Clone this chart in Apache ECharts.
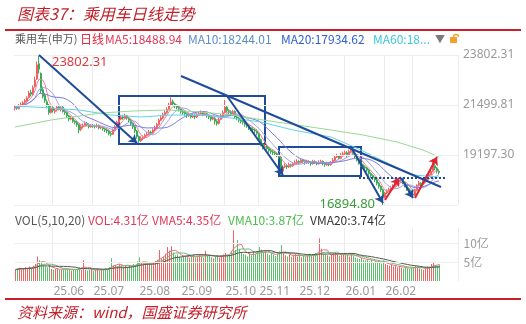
<!DOCTYPE html>
<html lang="zh-CN">
<head>
<meta charset="UTF-8">
<title>乘用车日线走势</title>
<script src="https://cdn.jsdelivr.net/npm/echarts@6/dist/echarts.min.js"></script>
<style>
html, body { margin: 0; padding: 0; background: #fff; }
#main { width: 526px; height: 324px; }
</style>
</head>
<body>
<div id="main"></div>
<script>
// 日K: [开, 收, 低, 高]，2025-05-06 起的交易日
var candles = [
  [21350,21400,21250,21500],[21420,21350,21280,21480],[21330,21480,21300,21550],[21500,21520,21420,21620],[21480,21600,21450,21680],
  [21620,21700,21550,21780],[21680,21820,21650,21900],[21850,22050,21800,22150],[22080,22000,21900,22200],[21980,22300,21950,22400],
  [22350,22650,22300,22800],[22700,23350,22650,23500],[23400,23150,22950,23802.31],[22950,22150,22050,23000],[22200,21900,21800,22350],
  [21950,21700,21600,22050],[21650,21450,21350,21750],[21500,21150,21050,21550],[21150,21350,21100,21450],[21380,21250,21150,21450],
  [21200,21250,21100,21350],[21280,21400,21200,21500],[21420,21300,21250,21500],[21300,21380,21200,21450],[21400,21200,21150,21450],
  [21200,21150,21050,21300],[21150,21000,20900,21200],[21000,20850,20750,21050],[20850,20900,20800,21000],[20900,20750,20680,20950],
  [20750,20700,20600,20800],[20700,20600,20500,20780],[20600,20350,20200,20650],[20380,20500,20300,20580],[20500,20550,20420,20650],
  [20560,20650,20500,20750],[20650,20600,20520,20720],[20600,20500,20420,20650],[20500,20550,20450,20620],[20560,20520,20450,20620],
  [20520,20500,20420,20600],[20500,20560,20450,20650],[20560,20450,20380,20600],[20450,20480,20380,20550],[20480,20400,20320,20520],
  [20400,20350,20250,20450],[20350,20300,20200,20420],[20300,20180,20100,20350],[20180,20150,20050,20250],[20150,20350,20120,20420],
  [20350,20500,20300,20580],[20500,20700,20450,20780],[20700,20850,20650,20950],[20850,20950,20800,21050],[20950,20900,20820,21050],
  [20900,21000,20850,21100],[21000,20900,20820,21050],[20900,20800,20700,20950],[20800,20650,20550,20850],[20650,20500,20400,20700],
  [20500,20300,20200,20550],[20300,20050,19950,20350],[20050,19850,19750,20100],[19850,19950,19800,20050],[19950,20000,19880,20100],
  [20000,20100,19950,20180],[20100,20150,20050,20250],[20150,20250,20100,20350],[20250,20200,20120,20320],[20200,20350,20150,20420],
  [20350,20450,20300,20550],[20450,20600,20400,20680],[20600,20800,20550,20880],[20800,20900,20750,21000],[20900,21050,20850,21150],
  [21050,21150,21000,21250],[21150,21300,21100,21400],[21300,21500,21250,21600],[21500,21650,21450,21850],[21650,21550,21450,21750],
  [21550,21450,21350,21600],[21450,21380,21300,21520],[21380,21300,21200,21450],[21300,21200,21100,21350],[21200,21150,21050,21280],
  [21150,21100,21000,21250],[21100,21000,20900,21150],[21000,21050,20950,21150],[21050,20950,20880,21100],[20950,21000,20900,21080],
  [21000,20950,20850,21080],[20950,21050,20900,21150],[21050,21100,21000,21200],[21100,21150,21050,21250],[21150,21050,20980,21200],
  [21050,21100,21000,21180],[21100,21000,20920,21150],[21000,20950,20850,21050],[20950,20850,20750,21000],[20850,20900,20800,20980],
  [20900,20750,20600,20950],[20750,20650,20550,20800],[20650,20850,20600,20900],[20850,21000,20800,21080],[21000,21150,20950,21250],
  [21150,21400,21100,21730],[21400,21250,21150,21500],[21250,21150,21050,21300],[21150,21100,21000,21250],[21100,21200,21050,21280],
  [21200,20950,20900,21250],[20950,20900,20800,21050],[20900,20800,20700,20950],[20800,20750,20650,20880],[20750,20700,20600,20800],
  [20700,20600,20500,20750],[20600,20550,20450,20680],[20550,20450,20350,20600],[20450,20400,20300,20500],[20400,20350,20250,20480],
  [20350,20300,20200,20420],[20300,20200,20100,20380],[20200,19900,19800,20250],[19900,19700,19600,19950],[19700,19550,19450,19750],
  [19550,19600,19450,19700],[19600,19500,19400,19680],[19500,19400,19300,19580],[19400,19350,19250,19480],[19350,19300,19200,19420],
  [19300,19250,19150,19380],[19250,19200,19100,19320],[19200,19100,19000,19280],[19100,18450,18276,19150],[18450,18650,18400,18720],
  [18650,18700,18600,18800],[18700,18650,18550,18780],[18650,18750,18600,18850],[18750,18700,18620,18800],[18700,18800,18650,18880],
  [18800,18850,18750,18950],[18850,18900,18780,19000],[18900,18850,18750,18950],[18850,18950,18800,19050],[18950,18900,18820,19000],
  [18900,18850,18750,18950],[18850,18900,18780,18980],[18900,18850,18780,18950],[18850,18800,18700,18900],[18800,18900,18750,18980],
  [18900,18850,18780,18950],[18850,18800,18720,18900],[18800,18850,18750,18950],[18850,18900,18800,18980],[18900,18800,18720,18950],
  [18800,18750,18650,18850],[18750,18800,18700,18880],[18800,18750,18680,18850],[18750,18850,18700,18920],[18850,18950,18800,19050],
  [18950,19100,18900,19200],[19100,19150,19050,19250],[19150,19050,18980,19200],[19050,19200,19000,19300],[19200,19250,19150,19350],
  [19250,19300,19200,19400],[19300,19200,19100,19380],[19200,19350,19150,19450],[19350,19400,19300,19566],[19400,19250,19150,19450],
  [19250,19150,19050,19300],[19150,19000,18900,19200],[19000,18850,18750,19050],[18850,18750,18650,18900],[18750,18650,18550,18800],
  [18650,18600,18500,18720],[18600,18500,18400,18650],[18500,18350,18250,18550],[18350,18250,18150,18400],[18250,18150,18050,18300],
  [18150,18050,17950,18200],[18050,17900,17800,18100],[17900,17750,17650,17950],[17750,17600,17500,17800],[17600,17250,16894.80,17650],
  [17250,17450,17200,17500],[17450,17550,17400,17620],[17550,17600,17500,17700],[17600,17700,17550,17780],[17700,17750,17650,17850],
  [17750,17850,17700,17950],[17850,17950,17800,18050],[17950,18050,17900,18150],[18050,18100,17980,18200],[18100,17950,17850,18150],
  [17950,17800,17700,18000],[17800,17650,17550,17850],[17650,17550,17450,17700],[17550,17400,17300,17600],[17400,17350,17217,17450],
  [17350,17600,17300,17650],[17600,17800,17550,17850],[17800,17900,17750,18000],[17900,17850,17750,17950],[17850,17950,17800,18050],
  [17950,18050,17900,18150],[18050,18200,18000,18300],[18200,18300,18150,18400],[18300,18450,18250,18550],[18450,18700,18400,19000],
  [18700,18600,18500,18800],[18600,18450,18350,18650],[18450,18400,18300,18550]
];

// 成交量（亿）
var volumes = [
  3.0,3.2,3.5,3.1,3.4,3.6,3.3,3.8,3.5,4.0,
  4.5,6.5,5.5,5.0,4.2,
  3.8,3.6,4.0,3.2,3.0,3.1,3.4,2.9,3.0,3.2,
  3.0,3.3,3.1,2.8,3.0,2.9,3.2,3.6,3.0,5.5,
  3.0,2.8,2.9,3.1,2.7,2.9,3.0,2.8,3.2,3.0,
  3.3,3.1,3.6,6.0,4.0,4.2,3.9,4.4,4.1,3.8,
  4.0,3.7,4.2,3.9,4.5,4.3,5.2,6.3,4.8,4.6,
  4.4,4.7,4.9,4.5,5.0,5.3,5.6,8.2,6.0,6.5,
  7.2,9.0,8.0,9.2,7.5,6.8,7.0,6.5,6.2,6.6,
  6.4,6.8,6.1,6.5,6.9,6.3,6.7,7.0,6.4,6.2,
  8.0,6.6,6.9,6.3,6.0,6.5,6.8,6.2,6.6,7.0,
  7.4,6.8,6.9,8.0,13.4,8.2,10.8,8.5,7.6,7.2,
  7.0,6.5,7.3,6.8,7.9,7.1,7.5,9.0,8.3,7.6,
  7.8,7.2,6.9,7.4,7.0,6.6,7.2,7.8,9.5,7.3,
  6.8,6.5,7.0,6.4,6.7,7.1,6.5,6.9,6.3,6.6,
  6.4,6.8,7.2,6.6,7.0,7.4,6.8,11.3,8.5,7.2,
  7.0,6.8,6.5,6.9,7.3,7.6,7.0,6.7,6.9,7.2,
  6.8,7.0,6.5,7.4,6.6,6.2,6.0,5.8,6.1,5.6,
  5.5,5.8,5.2,5.6,5.0,5.3,4.8,5.1,4.6,5.4,
  4.5,4.2,4.0,4.3,3.8,4.1,3.6,3.9,3.5,3.3,
  3.6,3.4,3.2,3.5,3.7,4.0,3.8,3.4,3.2,3.0,
  3.4,3.8,3.6,4.5,4.8,4.2,4.0,4.31
];

// MA60 / MA120 读图取点 [序号, 值]
var ma60Pts = [[0,21454],[18,21361],[32,21269],[48,21039],[63,20947],[78,21039],[93,21039],
  [108,20901],[123,20717],[139,20348],[158,20025],[173,19427],[183,18967],[199,18276],[212,18184]];
var ma120Pts = [[0,20486],[18,20809],[43,21131],[59,21223],[76,21269],[93,21177],[109,21039],
  [124,20809],[141,20579],[158,20348],[174,20118],[191,19796],[204,19427],[212,19105]];

var slots = 222;               // 右侧留白
var monthStart = [19, 39, 62, 83, 105, 122, 142, 165, 185, 199];
var monthLabel = ['25.06','25.07','25.08','25.09','25.10','25.11','25.12','26.01','26.02',''];
var priceTicks = [19197.30, 21499.81, 23802.31];
var priceGrid = [16894.80, 19197.30, 21499.81, 23802.31];
var volTicks = [5, 10];

// 标注：[起点序号, 起点值, 终点序号, 终点值]
var blueArrows = [[12,23802.31,61,19750],[106,21914,134,18276],[168,19566,184,16987],[193,18138,199,17217]];
var redArrows = [[185,17125,192,18138],[200,17217,211,19105]];
var trendLine = [83,22835,213,17724];
var supportLine = [172,18138,215,18138];
var boxes = [[52,21914,125,19704],[132,19566,173,18230]];

var UP = '#f06060', DOWN = '#35ad52', NAVY = '#1f4b99', RED = '#dc2530';

function ma(arr, n) {
  return arr.map(function (v, i) {
    var s = arr.slice(Math.max(0, i - n + 1), i + 1);
    return +(s.reduce(function (a, b) { return a + b; }, 0) / s.length).toFixed(2);
  });
}
function sparse(pts) {
  var out = [];
  for (var i = 0; i < candles.length; i++) out.push(null);
  pts.forEach(function (p) { out[p[0]] = p[1]; });
  return out;
}

var closes = candles.map(function (c) { return c[1]; });
var cats = [];
for (var i = 0; i < slots; i++) cats.push('');
monthStart.forEach(function (m, k) { cats[m] = monthLabel[k]; });
var monthSet = {};
monthStart.forEach(function (m) { monthSet[m] = true; });

var volData = volumes.map(function (v, i) {
  var c = candles[i];
  return { value: v, itemStyle: { color: c[1] >= c[0] ? '#f06464' : '#5cbf6e' } };
});

function seg(a, color, arrow, dotted) {
  return [
    { coord: [a[0], a[1]], symbol: 'none', lineStyle: { color: color, width: 2, type: dotted ? 'dotted' : 'solid' } },
    { coord: [a[2], a[3]], symbol: arrow ? 'arrow' : 'none', symbolSize: 8 }
  ];
}
var notes = [];
blueArrows.forEach(function (a) { notes.push(seg(a, NAVY, true)); });
redArrows.forEach(function (a) { notes.push(seg(a, RED, true)); });
notes.push(seg(trendLine, NAVY, false));
notes.push(seg(supportLine, NAVY, false, true));

function lineSeries(name, data, color, xi) {
  return {
    name: name, type: 'line', data: data, xAxisIndex: xi, yAxisIndex: xi,
    showSymbol: false, connectNulls: true, silent: true,
    lineStyle: { width: 1, color: color }, itemStyle: { color: color }
  };
}

function txt(x, y, s, color, size, extra) {
  var st = { text: s, fill: color, font: (size || 12) + 'px "Noto Sans CJK SC", "Noto Sans", sans-serif', textVerticalAlign: 'middle' };
  if (extra) for (var k in extra) st[k] = extra[k];
  return { type: 'text', x: x, y: y, style: st, z: 10 };
}

var chart = echarts.init(document.getElementById('main'), null, { renderer: 'canvas' });

var option = {
  animation: false,
  backgroundColor: '#fff',
  grid: [
    { left: 14, width: 444, top: 55, height: 150 },
    { left: 14.5, width: 444, top: 228, height: 53 }
  ],
  xAxis: [
    {
      type: 'category', gridIndex: 0, data: cats, boundaryGap: true,
      axisLine: { show: false }, axisTick: { show: false }, axisLabel: { show: false },
      splitLine: { show: true, interval: function (i) { return !!monthSet[i]; }, lineStyle: { color: '#ececec' } }
    },
    {
      type: 'category', gridIndex: 1, data: cats, boundaryGap: true,
      axisLine: { show: false }, axisTick: { show: false },
      axisLabel: { interval: 0, align: 'left', color: '#9a9a9a', fontSize: 12, margin: 5,
        fontFamily: '"Noto Sans", sans-serif' },
      splitLine: { show: true, interval: function (i) { return !!monthSet[i]; }, lineStyle: { color: '#ececec' } }
    }
  ],
  yAxis: [
    {
      type: 'value', gridIndex: 0, position: 'right', min: 16894.80, max: 23802.31,
      axisLine: { show: false }, axisTick: { show: false }, splitLine: { show: false },
      axisLabel: { customValues: priceTicks, formatter: function (v) { return v.toFixed(2); },
        color: '#9a9a9a', fontSize: 12, margin: 5, fontFamily: '"Noto Sans", sans-serif' }
    },
    {
      type: 'value', gridIndex: 1, position: 'right', min: 0, max: 14,
      axisLine: { show: false }, axisTick: { show: false }, splitLine: { show: false },
      axisLabel: { customValues: volTicks, formatter: function (v) { return v + '亿'; },
        color: '#9a9a9a', fontSize: 12, margin: 5, fontFamily: '"Noto Sans CJK SC", sans-serif' }
    }
  ],
  series: [
    {
      type: 'line', data: sparse([]), xAxisIndex: 0, yAxisIndex: 0, silent: true, z: 0,
      markLine: { silent: true, symbol: 'none', label: { show: false },
        lineStyle: { color: '#efefef', type: 'solid', width: 1 },
        data: priceGrid.map(function (v) { return { yAxis: v }; }) }
    },
    {
      type: 'line', data: [], xAxisIndex: 1, yAxisIndex: 1, silent: true, z: 0,
      markLine: { silent: true, symbol: 'none', label: { show: false },
        lineStyle: { color: '#efefef', type: 'solid', width: 1 },
        data: volTicks.map(function (v) { return { yAxis: v }; }) }
    },
    {
      name: 'K', type: 'candlestick', data: candles, xAxisIndex: 0, yAxisIndex: 0,
      barWidth: '70%', silent: true,
      itemStyle: { color: UP, color0: DOWN, borderColor: UP, borderColor0: DOWN, borderWidth: 1 },
      markLine: { silent: true, animation: false, label: { show: false }, data: notes },
      markArea: {
        silent: true,
        itemStyle: { color: 'rgba(0,0,0,0)', borderColor: NAVY, borderWidth: 2 },
        data: boxes.map(function (b) { return [{ coord: [b[0], b[1]] }, { coord: [b[2], b[3]] }]; })
      },
      markPoint: {
        silent: true, symbol: 'circle', symbolSize: 0,
        data: [
          { coord: [12, 23802.31], label: { show: true, position: 'right', distance: 5, offset: [8, 7],
              formatter: '23802.31', color: '#e03a3e', fontSize: 13, fontFamily: '"Noto Sans", sans-serif' } },
          { coord: [184, 16894.80], label: { show: true, position: 'left', distance: 5, offset: [-3, -1],
              formatter: '16894.80', color: '#3a9d3a', fontSize: 13, fontFamily: '"Noto Sans", sans-serif' } }
        ]
      }
    },
    lineSeries('MA5', ma(closes, 5), '#ec7f98', 0),
    lineSeries('MA10', ma(closes, 10), '#a3a6e6', 0),
    lineSeries('MA20', ma(closes, 20), '#7f7fdc', 0),
    lineSeries('MA60', sparse(ma60Pts), '#62d2ea', 0),
    lineSeries('MA120', sparse(ma120Pts), '#98d898', 0),
    {
      name: 'VOL', type: 'bar', data: volData, xAxisIndex: 1, yAxisIndex: 1,
      barWidth: 1, silent: true
    },
    lineSeries('VMA5', ma(volumes, 5), '#e8738a', 1),
    lineSeries('VMA10', ma(volumes, 10), '#6cc06c', 1),
    lineSeries('VMA20', ma(volumes, 20), '#555555', 1)
  ],
  graphic: [
    txt(17, 14, '图表37：乘用车日线走势', '#c21f2a', 16, { font: 'italic 16px "Noto Sans CJK SC", sans-serif' }),
    { type: 'line', shape: { x1: 5, y1: 30, x2: 521, y2: 30 }, style: { stroke: '#c8202a', lineWidth: 2 } },
    txt(15, 39, '乘用车(申万)', '#555555', 11),
    txt(80, 39, '日线', '#e8283c', 12),
    txt(105, 39, 'MA5:18488.94', '#e0385a', 12),
    txt(188, 39, 'MA10:18244.01', '#5b8dc8', 12),
    txt(281, 39, 'MA20:17934.62', '#2e5fd0', 12),
    txt(373, 39, 'MA60:18...', '#3fc6e0', 12),
    txt(435, 39, '▼', '#7a7a7a', 10),
    { type: 'rect', shape: { x: 450, y: 37, width: 7, height: 6 }, style: { fill: '#f2a22c' }, z: 10 },
    { type: 'arc', shape: { cx: 456, cy: 37, r: 2.5, startAngle: Math.PI, endAngle: 0 }, style: { stroke: '#f2a22c', lineWidth: 1.3, fill: null }, z: 10 },
    txt(15, 220, 'VOL(5,10,20)', '#555555', 12),
    txt(88, 220, 'VOL:4.31亿', '#e0385a', 12),
    txt(152, 220, 'VMA5:4.35亿', '#e0385a', 12),
    txt(228, 220, 'VMA10:3.87亿', '#4cbb4c', 12),
    txt(310, 220, 'VMA20:3.74亿', '#333333', 12),
    { type: 'line', shape: { x1: 5, y1: 299, x2: 521, y2: 299 }, style: { stroke: '#c8202a', lineWidth: 2 } },
    txt(17, 312, '资料来源：wind，国盛证券研究所', '#c21f2a', 15, { font: 'italic 15px "Noto Sans CJK SC", sans-serif' })
  ]
};

chart.setOption(option);
</script>
</body>
</html>
